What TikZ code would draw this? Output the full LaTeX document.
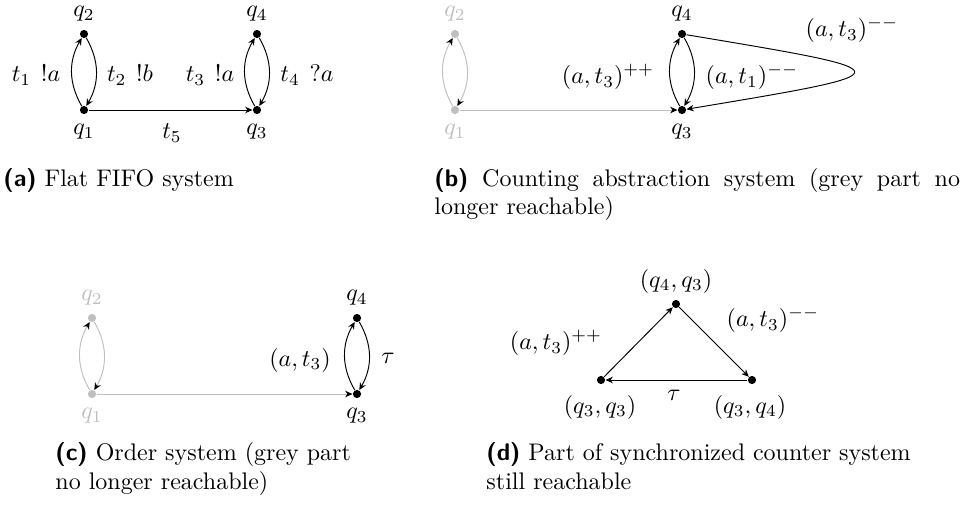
\documentclass[tikz,border=0pt]{standalone}
\usetikzlibrary{arrows.meta}
\tikzset{
  st/.style={circle, fill=black, inner sep=0pt, minimum size=3.4pt},
  gst/.style={st, fill=lightgray},
  lbl/.style={inner sep=0pt},
  glbl/.style={lbl, text=lightgray},
  tr/.style={draw=black, -{Stealth[length=3pt,width=2.7pt,inset=0.9pt,color=black]}},
  gtr/.style={tr, draw=lightgray},
  capbox/.style={inner sep=0pt, anchor=base west},
}
\newcommand{\sublab}[1]{\textsf{\textbf{(#1)}}}
\begin{document}
\begin{tikzpicture}[x=0.416667pt, y=-0.416667pt]
\useasboundingbox (0,0) rectangle (967,512);

% ---------- (a) ----------
\node[st] (a1) at (84,110) {};
\node[st] (a2) at (84,34) {};
\node[st] (a3) at (257,110) {};
\node[st] (a4) at (257,34) {};
\node[lbl] (a1l) at (84,132) {$q_1$};
\node[lbl] (a2l) at (84,14) {$q_2$};
\node[lbl] (a3l) at (257,132) {$q_3$};
\node[lbl] (a4l) at (257,14) {$q_4$};
\draw[tr] (a1) to[bend left=30] (a2);
\draw[tr] (a2) to[bend left=30] (a1);
\draw[tr] (a1) -- (a3);
\draw[tr] (a3) to[bend left=30] (a4);
\draw[tr] (a4) to[bend left=30] (a3);
\node[lbl] (at1) at (36,75) {$t_1\hspace{4pt}!a$};
\node[lbl] (at2) at (130,75) {$t_2\hspace{4pt}!b$};
\node[lbl] (at3) at (210,75) {$t_3\hspace{4pt}!a$};
\node[lbl] (at4) at (307,75) {$t_4\hspace{4pt}?a$};
\node[lbl] (at5) at (172,133) {$t_5$};
\node[capbox] (acap) at (3,186) {\sublab{a} Flat FIFO system};

% ---------- (b) ----------
\node[gst] (b1) at (455,110) {};
\node[gst] (b2) at (455,34) {};
\node[st] (b3) at (682,110) {};
\node[st] (b4) at (682,34) {};
\node[glbl] (b1l) at (455,132) {$q_1$};
\node[glbl] (b2l) at (455,14) {$q_2$};
\node[lbl] (b3l) at (682,132) {$q_3$};
\node[lbl] (b4l) at (682,14) {$q_4$};
\draw[gtr] (b1) to[bend left=30] (b2);
\draw[gtr] (b2) to[bend left=30] (b1);
\draw[gtr] (b1) -- (b3);
\draw[tr] (b3) to[bend left=30] (b4);
\draw[tr] (b4) to[bend left=30] (b3);
\coordinate (btip) at (910,72);
\draw[tr] (b4) .. controls (btip) and (btip) .. (b3);
\node[lbl] (bl1) at (608,77) {$(a,t_3)^{++}$};
\node[lbl] (bl2) at (752,77) {$(a,t_1)^{--}$};
\node[lbl] (bl3) at (852,30) {$(a,t_3)^{--}$};
\node[capbox, text width=219pt, align=justify] (bcap) at (434,186)
  {\sublab{b} Counting abstraction system (grey part no longer reachable)};

% ---------- (c) ----------
\node[gst] (c1) at (92,394) {};
\node[gst] (c2) at (92,318) {};
\node[st] (c3) at (357,394) {};
\node[st] (c4) at (357,318) {};
\node[glbl] (c1l) at (92,416) {$q_1$};
\node[glbl] (c2l) at (92,298) {$q_2$};
\node[lbl] (c3l) at (357,416) {$q_3$};
\node[lbl] (c4l) at (357,298) {$q_4$};
\draw[gtr] (c1) to[bend left=30] (c2);
\draw[gtr] (c2) to[bend left=30] (c1);
\draw[gtr] (c1) -- (c3);
\draw[tr] (c3) to[bend left=30] (c4);
\draw[tr] (c4) to[bend left=30] (c3);
\node[lbl] (cl1) at (300,360) {$(a,t_3)$};
\node[lbl] (cl2) at (388,358) {$\tau$};
\node[capbox, align=left] (ccap) at (55,489)
  {\sublab{c} Order system (grey part\\no longer reachable)};

% ---------- (d) ----------
\node[st] (d1) at (601,380) {};
\node[st] (d2) at (676,304) {};
\node[st] (d3) at (752,380) {};
\node[lbl] (d1l) at (600,407) {$(q_3,q_3)$};
\node[lbl] (d2l) at (676,281) {$(q_4,q_3)$};
\node[lbl] (d3l) at (750,407) {$(q_3,q_4)$};
\draw[tr] (d1) -- (d2);
\draw[tr] (d2) -- (d3);
\draw[tr] (d3) -- (d1);
\node[lbl] (dl1) at (556,343) {$(a,t_3)^{++}$};
\node[lbl] (dl2) at (773,320) {$(a,t_3)^{--}$};
\node[lbl] (dl3) at (674,395) {$\tau$};
\node[capbox, align=left] (dcap) at (486,489)
  {\sublab{d} Part of synchronized counter system\\still reachable};
\end{tikzpicture}
\end{document}
